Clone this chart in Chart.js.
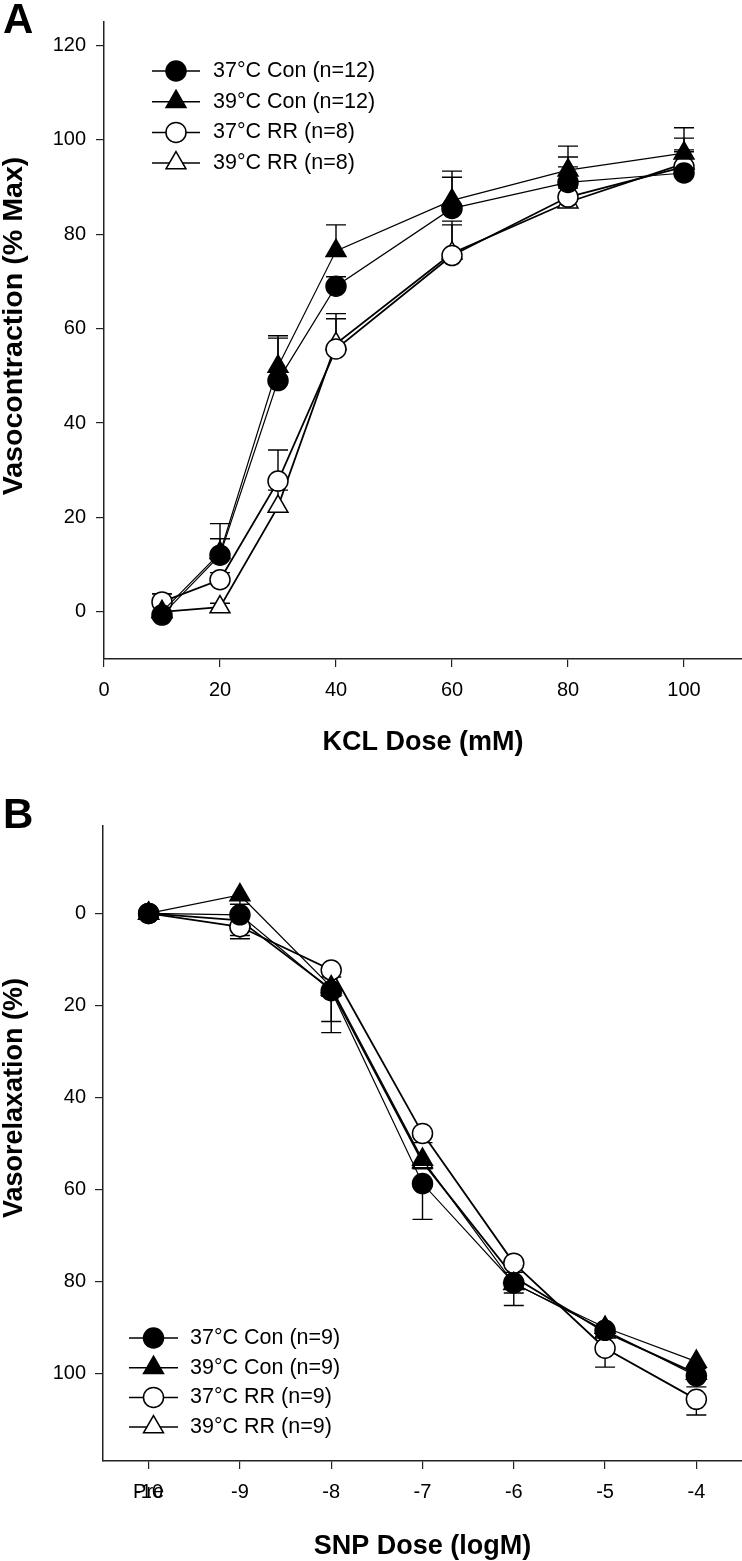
<!DOCTYPE html>
<html>
<head>
<meta charset="utf-8">
<script src="https://cdn.jsdelivr.net/npm/chart.js@4.4.0/dist/chart.umd.min.js"></script>
<style>
    html, body { margin: 0; padding: 0; background: #fff; }
    body { width: 742px; height: 1561px; position: relative; overflow: hidden; font-family: "Liberation Sans", Arial, sans-serif; }
    canvas { position: absolute; left: 0; }
    #chartA { top: 0; }
    #chartB { top: 780px; }
    .panel-letter { position: absolute; left: 3px; font-weight: bold; font-size: 42px; line-height: 42px; z-index: 2; }
</style>
</head>
<body>
<canvas id="chartA" width="742" height="780"></canvas>
<canvas id="chartB" width="742" height="781"></canvas>
<div class="panel-letter" style="top:-2px">A</div>
<div class="panel-letter" style="top:793px">B</div>
<script>
// ------------------- Data: panel A (KCl) -------------------
const kclDose = [10, 20, 30, 40, 60, 80, 100];
const kclTicksX = [0, 20, 40, 60, 80, 100];
const kclTicksY = [0, 20, 40, 60, 80, 100, 120];
const kclLabels = ['37°C Con (n=12)', '39°C Con (n=12)', '37°C RR (n=8)', '39°C RR (n=8)'];
const kcl37Con   = [-0.7, 12, 49, 69, 85.5, 91, 93];
const kcl37ConSe = [2, 3.5, 9, 2, 6.6, 5.4, 4.9];
const kcl39Con   = [0, 12.5, 52, 76.5, 87.2, 93.6, 97.2];
const kcl39ConSe = [2, 6.2, 6.5, 5.5, 6.2, 5.1, 5.4];
const kcl37RR    = [2.1, 6.8, 27.7, 55.7, 75.5, 87.9, 94.3];
const kcl37RRSe  = [1.7, 1.5, 6.6, 7.5, 7.3, 6.4, 6.1];
const kcl39RR    = [0, 1, 22.3, 56.8, 76, 86.8, 95];
const kcl39RRSe  = [3.8, 0.8, 3.5, 5.3, 6, 3, 2.5];

// ------------------- Data: panel B (SNP) -------------------
const snpDose = [-10, -9, -8, -7, -6, -5, -4];   // -10 = "Pre"
const snpTicksX = [-10, -9, -8, -7, -6, -5, -4];
const snpTicksY = [0, 20, 40, 60, 80, 100];
const snpLabels = ['37°C Con (n=9)', '39°C Con (n=9)', '37°C RR (n=9)', '39°C RR (n=9)'];
const snp37Con   = [0, 0.3, 16.8, 58.7, 80.3, 90.6, 100.5];
const snp37ConSe = [0, 4.5, 9.1, 7.8, 4.9, 1.5, 2.4];
const snp39Con   = [0, -4, 16, 53.5, 80.5, 90, 97.4];
const snp39ConSe = [0, 2, 7.5, 1.9, 2, 1, 1.5];
const snp37RR    = [0, 2.9, 12.3, 47.8, 76, 94.5, 105.6];
const snp37RRSe  = [0, 2.6, 1.5, 2, 2, 4.1, 3.4];
const snp39RR    = [0, 1.5, 16.5, 54, 79, 91, 100];
const snp39RRSe  = [0, 1.5, 1.5, 1.5, 1.5, 1, 1];

// ------------------- Helpers -------------------
const FONT = '"Liberation Sans", Arial, sans-serif';
const AXIS = '#222';

function makeSet(label, xs, ys, se, filled, shape, width, order) {
    return {
        label: label,
        data: xs.map((x, i) => ({ x: x, y: ys[i] })),
        errors: se,
        borderColor: '#000',
        borderWidth: width,
        pointStyle: shape,
        pointRadius: shape === 'triangle' ? 11.5 : 10,
        pointBorderWidth: 1.5,
        pointBorderColor: '#000',
        pointBackgroundColor: filled ? '#000' : '#fff',
        tension: 0,
        fill: false,
        order: order || 0
    };
}

// upper error bars (caps), drawn behind markers
const errorBars = {
    id: 'errorBars',
    beforeDatasetsDraw(chart, args, opts) {
        const ctx = chart.ctx;
        const xs = chart.scales.x, ys = chart.scales.y;
        ctx.save();
        ctx.strokeStyle = '#000';
        ctx.lineWidth = 1.4;
        chart.data.datasets.forEach(ds => {
            ds.data.forEach((p, i) => {
                const e = ds.errors[i];
                if (!e) return;
                const px = xs.getPixelForValue(p.x);
                const y0 = ys.getPixelForValue(p.y);
                const y1 = ys.getPixelForValue(p.y + e);
                ctx.beginPath();
                ctx.moveTo(px, y0);
                ctx.lineTo(px, y1);
                ctx.moveTo(px - opts.cap, y1);
                ctx.lineTo(px + opts.cap, y1);
                ctx.stroke();
            });
        });
        ctx.restore();
    }
};

function drawMarker(ctx, shape, r, x, y) {
    ctx.beginPath();
    if (shape === 'triangle') {
        ctx.moveTo(x, y - r);
        ctx.lineTo(x + r * Math.sin(2 * Math.PI / 3), y - r * Math.cos(2 * Math.PI / 3));
        ctx.lineTo(x + r * Math.sin(4 * Math.PI / 3), y - r * Math.cos(4 * Math.PI / 3));
        ctx.closePath();
    } else {
        ctx.arc(x, y, r, 0, Math.PI * 2);
    }
    ctx.fill();
    ctx.stroke();
}

// legend inside the plot area
const insideLegend = {
    id: 'insideLegend',
    afterDatasetsDraw(chart, args, opts) {
        const ctx = chart.ctx;
        ctx.save();
        chart.data.datasets.forEach((ds, i) => {
            const y = opts.top + i * opts.rowGap;
            const mx = (opts.lineStart + opts.lineEnd) / 2;
            ctx.strokeStyle = '#000';
            ctx.lineWidth = 1.5;
            ctx.beginPath();
            ctx.moveTo(opts.lineStart, y);
            ctx.lineTo(opts.lineEnd, y);
            ctx.stroke();
            ctx.fillStyle = ds.pointBackgroundColor;
            ctx.lineWidth = ds.pointBorderWidth;
            drawMarker(ctx, ds.pointStyle, ds.pointRadius, mx, y);
            ctx.fillStyle = '#000';
            ctx.font = '21.5px ' + FONT;
            ctx.textAlign = 'left';
            ctx.textBaseline = 'middle';
            ctx.fillText(ds.label, opts.textX, y);
        });
        ctx.restore();
    }
};

// y axis title (rotated), placed a bit off the axis centre like the original
const yTitle = {
    id: 'yTitle',
    afterDraw(chart, args, opts) {
        const ctx = chart.ctx;
        ctx.save();
        ctx.translate(opts.x, opts.y);
        ctx.rotate(-Math.PI / 2);
        ctx.scale(opts.stretch || 1, 1);
        ctx.fillStyle = '#000';
        ctx.font = 'bold 27px ' + FONT;
        ctx.textAlign = 'center';
        ctx.textBaseline = 'middle';
        ctx.fillText(opts.text, 0, 0);
        ctx.restore();
    }
};

// "Pre" written over the first tick label of panel B
const preLabel = {
    id: 'preLabel',
    afterDraw(chart, args, opts) {
        if (!opts.text) return;
        const ctx = chart.ctx;
        const xs = chart.scales.x;
        ctx.save();
        ctx.fillStyle = '#000';
        ctx.font = '20px ' + FONT;
        ctx.textAlign = 'center';
        ctx.textBaseline = 'middle';
        ctx.fillText(opts.text, xs.getPixelForValue(opts.value), xs.top + 8 + 11 + 12);
        ctx.restore();
    }
};

function axisOpts(cfg) {
    return {
        type: 'linear',
        min: cfg.min,
        max: cfg.max,
        reverse: !!cfg.reverse,
        afterBuildTicks: s => { s.ticks = cfg.ticks.map(v => ({ value: v })); },
        afterFit: s => {
            if (cfg.width) s.width = cfg.width;
            if (cfg.height) s.height = cfg.height;
            s.paddingLeft = 0;
            s.paddingRight = 0;
            s.paddingTop = 0;
            s.paddingBottom = 0;
        },
        border: { display: true, color: AXIS, width: 1.5 },
        grid: { drawOnChartArea: false, drawTicks: true, tickLength: 8, color: AXIS, lineWidth: 1.2 },
        ticks: {
            autoSkip: false,
            maxRotation: 0,
            padding: cfg.pad,
            color: '#000',
            font: { family: FONT, size: 20 },
            callback: v => String(v)
        },
        title: {
            display: !!cfg.title,
            text: cfg.title || '',
            color: '#000',
            font: { family: FONT, size: 27, weight: 'bold', lineHeight: 1 },
            padding: cfg.titlePad || 0
        }
    };
}

function buildChart(id, datasets, sc, legend, ytitle, pre) {
    return new Chart(document.getElementById(id), {
        type: 'line',
        data: { datasets: datasets },
        options: {
            responsive: false,
            animation: false,
            devicePixelRatio: 1,
            layout: { padding: sc.padding, autoPadding: false },
            scales: { x: axisOpts(sc.x), y: axisOpts(sc.y) },
            plugins: {
                legend: { display: false },
                tooltip: { enabled: false },
                errorBars: { cap: 10 },
                insideLegend: legend,
                yTitle: ytitle,
                preLabel: pre
            }
        },
        plugins: [errorBars, insideLegend, yTitle, preLabel]
    });
}

// ------------------- Panel A -------------------
buildChart('chartA', [
    makeSet(kclLabels[0], kclDose, kcl37Con, kcl37ConSe, true, 'circle', 1.2),
    makeSet(kclLabels[1], kclDose, kcl39Con, kcl39ConSe, true, 'triangle', 1.2),
    makeSet(kclLabels[2], kclDose, kcl37RR, kcl37RRSe, false, 'circle', 1.8),
    makeSet(kclLabels[3], kclDose, kcl39RR, kcl39RRSe, false, 'triangle', 1.8)
], {
    padding: { top: 22, left: 0, right: 0, bottom: 0 },
    x: { min: 0, max: 110, ticks: kclTicksX, height: 121, pad: 11, title: 'KCL Dose (mM)', titlePad: { top: 0, bottom: 23.5 } },
    y: { min: -10, max: 125, ticks: kclTicksY, width: 104, pad: 10 }
}, { top: 71, rowGap: 30.7, lineStart: 152, lineEnd: 200, textX: 213 },
   { text: 'Vasocontraction (% Max)', x: 15, y: 326, stretch: 1.06 },
   { text: '' });

// ------------------- Panel B -------------------
buildChart('chartB', [
    makeSet(snpLabels[0], snpDose, snp37Con, snp37ConSe, true, 'circle', 1.2),
    makeSet(snpLabels[1], snpDose, snp39Con, snp39ConSe, true, 'triangle', 1.2),
    makeSet(snpLabels[2], snpDose, snp37RR, snp37RRSe, false, 'circle', 1.8),
    makeSet(snpLabels[3], snpDose, snp39RR, snp39RRSe, false, 'triangle', 1.8, 1)
], {
    padding: { top: 46, left: 0, right: 0, bottom: 0 },
    x: { min: -10.5, max: -3.5, ticks: snpTicksX, height: 100, pad: 11, title: 'SNP Dose (logM)', titlePad: { top: 0, bottom: 0.5 } },
    y: { min: -19, max: 119, reverse: true, ticks: snpTicksY, width: 103, pad: 9 }
}, { top: 558, rowGap: 29.7, lineStart: 129, lineEnd: 178, textX: 190 },
   { text: 'Vasorelaxation (%)', x: 15, y: 318, stretch: 1 },
   { text: 'Pre', value: -10 });
</script>
</body>
</html>
